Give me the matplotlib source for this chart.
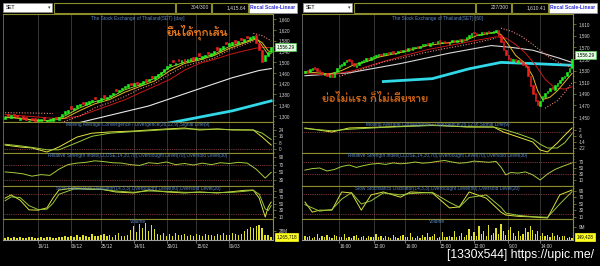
import matplotlib
matplotlib.use("Agg")
import numpy as np
import matplotlib.pyplot as plt
from matplotlib import font_manager, transforms
from matplotlib.ft2font import FT2Font
from matplotlib.patches import Rectangle
from matplotlib.ticker import AutoMinorLocator

plt.rcParams['font.family'] = ['Liberation Sans', 'DejaVu Sans']

# ---------------- daily SET (left) ----------------
day_close = [1296, 1299, 1302, 1298, 1295, 1293, 1290, 1286, 1283, 1285,
             1282, 1287, 1290, 1286, 1284, 1288, 1291, 1289, 1295, 1308,
             1318, 1322, 1327, 1331, 1340, 1346, 1343, 1350, 1356, 1361,
             1364, 1360, 1366, 1368, 1372, 1379, 1386, 1392, 1398, 1405,
             1412, 1419, 1415, 1421, 1418, 1424, 1430, 1427, 1438, 1442,
             1449, 1455, 1462, 1474, 1486, 1494, 1500, 1497, 1503, 1507,
             1502, 1510, 1514, 1509, 1518, 1524, 1521, 1528, 1530, 1533,
             1541, 1546, 1552, 1560, 1566, 1570, 1575, 1572, 1579, 1582,
             1585, 1588, 1593, 1598, 1570, 1545, 1500, 1525, 1538, 1556]
day_open = [1288, 1306, 1293, 1307, 1303, 1285, 1298, 1295, 1276, 1292,
            1291, 1279, 1281, 1295, 1276, 1280, 1282, 1297, 1285, 1296,
            1308, 1312, 1336, 1321, 1330, 1336, 1352, 1340, 1346, 1351,
            1372, 1350, 1356, 1377, 1362, 1369, 1376, 1400, 1388, 1395,
            1402, 1409, 1424, 1411, 1427, 1414, 1420, 1436, 1428, 1450,
            1439, 1445, 1452, 1462, 1474, 1484, 1509, 1488, 1512, 1497,
            1511, 1500, 1504, 1518, 1508, 1533, 1511, 1518, 1539, 1523,
            1531, 1555, 1542, 1550, 1575, 1560, 1565, 1581, 1569, 1591,
            1575, 1597, 1583, 1588, 1600, 1572, 1545, 1505, 1522, 1537]
day_volume = [7, 8, 6, 9, 7, 8, 6, 7, 9, 8, 7, 6, 8, 7, 9, 8, 7, 6, 10, 9, 12, 8, 11, 9,
              14, 10, 16, 12, 9, 18, 13, 11, 15, 20, 12, 17, 10, 14, 22, 13, 11, 16,
              30, 42, 25, 48, 38, 52, 28, 45, 33,
              20, 15, 22, 13, 18, 12, 21, 16, 14, 19, 11, 17, 13, 20, 15, 12, 18, 14, 16, 13,
              19, 15, 21, 17, 14, 22, 18, 16, 20,
              28, 35, 40, 38, 42, 45, 36, 16, 14, 10]
day_ticks = [11, 22, 32, 43, 54, 64, 75]
day_labels = ['19/11', '06/12', '25/12', '14/01', '30/01', '15/02', '06/03']

# moving averages / bands (bar number, value)
day_ma_bar = [0, 5, 10, 15, 20, 25, 30, 35, 40, 45, 50, 55, 60, 65, 70, 75, 80, 84, 86, 88, 89]
day_ma_fast = [1294, 1292, 1284, 1282, 1292, 1320, 1345, 1361, 1388, 1409, 1430, 1467,
               1495, 1508, 1525, 1551, 1571, 1586, 1572, 1542, 1538]
day_ma_5 = [1297, 1291, 1282, 1284, 1300, 1330, 1353, 1367, 1397, 1415, 1440, 1480,
            1500, 1513, 1530, 1558, 1575, 1590, 1560, 1528, 1532]
day_ma_mid_bar = [0, 10, 15, 20, 25, 30, 35, 40, 45, 50, 55, 60, 65, 70, 75, 80, 84, 87, 89]
day_ma_mid = [1305, 1297, 1292, 1290, 1300, 1320, 1340, 1360, 1385, 1410, 1435, 1470,
              1495, 1510, 1528, 1542, 1552, 1555, 1553]
day_ma_long_bar = [20, 27, 48, 65, 76, 85, 89]
day_ma_long = [1262, 1281, 1337, 1401, 1442, 1469, 1476]
day_ma_200_bar = [55, 76, 89]
day_ma_200 = [1274, 1319, 1356]
day_band_up_bar = [0, 8, 16]
day_band_up = [1312, 1311, 1309]
day_band_lo_bar = [18, 25, 30, 35, 40, 45, 50, 55, 60, 65, 70, 75, 80, 83]
day_band_lo = [1272, 1300, 1330, 1350, 1372, 1400, 1420, 1455, 1485, 1500, 1515, 1545, 1565, 1578]
day_band_end_bar = [83, 86, 88, 89]
day_band_end = [1607, 1598, 1586, 1578]

day_macd_bar = [0, 5, 9, 14, 18, 24, 29, 35, 43, 48, 54, 60, 65, 71, 76, 83, 86, 89]
day_macd = [5, 2.5, 1.3, -3.8, 2.5, 15, 20, 21.5, 22.7, 24, 25.3, 26.5, 24, 25.3, 24, 24, 15, 5]
day_signal = [6, 4, 2, -1, -1, 8, 16, 20, 22, 23, 24.5, 25.5, 25, 25, 24.5, 24, 20, 12]

day_rsi_bar = [0, 3, 6, 9, 12, 15, 18, 21, 24, 27, 30, 33, 36, 39, 42, 45, 48, 51, 54, 57,
               60, 63, 66, 69, 72, 75, 78, 81, 84, 87, 89]
day_rsi = [51, 49, 46, 40, 44, 42, 58, 70, 74, 76, 80, 78, 75, 74, 70, 68, 75, 73, 77, 70,
           73, 69, 74, 70, 75, 73, 76, 74, 58, 35, 50]

day_sto_bar = [0, 2, 5, 8, 11, 14, 16, 18, 23, 28, 32, 37, 43, 48, 54, 60, 65, 71, 76, 80,
               83, 85, 87, 88, 89]
day_sto_k = [68, 78, 62, 32, 31, 38, 68, 93, 99, 95, 96, 87, 84, 93, 87, 84, 87, 84, 88, 92,
             93, 68, 10, 41, 56]
day_sto_d = [60, 72, 70, 45, 33, 34, 52, 80, 96, 97, 95, 90, 86, 90, 89, 86, 86, 85, 86, 89,
             92, 80, 35, 30, 45]

# ---------------- 60 minute SET (right) ----------------
hr_close = [1530, 1527, 1532, 1535, 1533, 1530, 1528, 1524, 1525, 1520,
            1522, 1519, 1528, 1535, 1539, 1541, 1545, 1548, 1547, 1542,
            1537, 1540, 1544, 1546, 1548, 1551, 1549, 1553, 1555, 1556,
            1558, 1557, 1560, 1561, 1559, 1562, 1560, 1561, 1564, 1563,
            1566, 1565, 1568, 1567, 1570, 1571, 1569, 1573, 1575, 1576,
            1574, 1577, 1579, 1579, 1581, 1578, 1580, 1579, 1577, 1580,
            1582, 1580, 1583, 1581, 1584, 1582, 1587, 1591, 1595, 1594,
            1592, 1593, 1596, 1594, 1597, 1595, 1596, 1598, 1599, 1590,
            1580, 1565, 1556, 1550, 1547, 1549, 1544, 1548, 1544, 1540,
            1536, 1520, 1504, 1490, 1478, 1470, 1478, 1486, 1492, 1495,
            1500, 1498, 1505, 1509, 1514, 1518, 1521, 1528, 1535, 1550]
hr_open = [1526, 1531, 1527, 1531, 1536, 1534, 1531, 1528, 1523, 1526,
           1519, 1523, 1518, 1527, 1534, 1538, 1540, 1544, 1549, 1548,
           1543, 1536, 1539, 1543, 1545, 1547, 1552, 1548, 1552, 1554,
           1555, 1559, 1556, 1559, 1562, 1558, 1563, 1559, 1560, 1565,
           1562, 1567, 1564, 1569, 1566, 1569, 1572, 1568, 1572, 1574,
           1577, 1573, 1576, 1580, 1578, 1582, 1577, 1581, 1580, 1576,
           1579, 1583, 1579, 1584, 1580, 1585, 1582, 1586, 1590, 1596,
           1595, 1591, 1592, 1597, 1593, 1598, 1594, 1595, 1597, 1600,
           1591, 1581, 1566, 1557, 1551, 1546, 1550, 1543, 1549, 1545,
           1541, 1537, 1521, 1505, 1492, 1480, 1469, 1477, 1485, 1491,
           1494, 1501, 1497, 1504, 1508, 1513, 1517, 1520, 1527, 1534]
hr_volume = [2.5, 1.8, 3.0, 1.5, 2.2, 4.0, 1.6, 2.8, 1.9, 3.5, 2.0, 1.4, 3.2, 2.6, 1.8,
             2.1, 3.8, 1.7, 2.4, 1.5, 2.9, 3.3, 1.6, 2.0, 2.7, 1.5, 3.0, 1.8, 2.3, 4.2,
             1.9, 2.5, 1.6, 3.1, 2.2, 1.7, 3.6, 2.0, 1.5, 2.8, 3.4, 1.8, 2.4, 5.0, 2.1,
             1.6, 2.9, 1.7, 3.3, 2.0, 4.5, 1.8, 2.6, 3.9, 1.6, 2.2, 5.5, 2.4, 1.9, 3.0,
             2.3, 6.0, 1.8, 2.7, 4.8, 2.0, 3.5, 7.5, 2.6, 5.2, 3.0, 9.5, 4.0, 6.5, 2.8,
             10.5, 3.6, 5.0, 8.0, 4.2, 11.0, 6.0, 3.5, 7.0, 9.0, 4.5, 3.0, 6.5, 2.5, 4.0,
             8.5, 5.5, 10.0, 7.0, 4.0, 6.0, 3.0, 5.0, 2.5, 3.5, 2.0, 4.5, 2.8, 3.2, 1.8,
             2.5, 3.0, 1.6, 2.2, 1.2]
hr_ticks = [14, 28, 41, 55, 69, 83, 96]
hr_labels = ['16:00', '12:00', '16:00', '15:00', '12:00', '9:00', '14:00']

hr_ma_bar = [0, 10, 15, 20, 25, 30, 40, 50, 60, 65, 70, 75, 78, 80, 83, 86, 90, 93, 95, 97,
             100, 103, 106, 109]
hr_ma_fast = [1528, 1524, 1530, 1540, 1545, 1553, 1562, 1573, 1579, 1581, 1590, 1594, 1596,
              1592, 1575, 1556, 1542, 1520, 1495, 1480, 1484, 1495, 1510, 1525]
hr_ma_mid_bar = [0, 10, 20, 30, 40, 50, 60, 70, 78, 82, 86, 90, 94, 98, 102, 106, 109]
hr_ma_mid = [1525, 1522, 1530, 1543, 1555, 1566, 1574, 1582, 1588, 1586, 1575, 1560, 1540,
             1515, 1500, 1498, 1502]
hr_ma_long_bar = [0, 18, 39, 59, 76, 84, 93, 104, 109]
hr_ma_long = [1521, 1526, 1542, 1560, 1573, 1570, 1565, 1551, 1544]
hr_ma_200_bar = [32, 52, 67, 80, 93, 109]
hr_ma_200 = [1511, 1516, 1533, 1544, 1542, 1539]
hr_band_lo_bar = [14, 20, 26, 32, 40, 48, 56, 64, 72, 78]
hr_band_lo = [1520, 1528, 1536, 1545, 1552, 1560, 1567, 1573, 1580, 1586]
hr_band_up_bar = [80, 84, 88, 92, 96, 100, 104, 109]
hr_band_up = [1603, 1598, 1590, 1578, 1565, 1552, 1543, 1535]
hr_band_end_bar = [98, 103, 106, 109]
hr_band_end = [1465, 1478, 1492, 1509]

hr_macd_bar = [0, 11, 18, 32, 52, 66, 77, 81, 87, 93, 96, 99, 103, 106, 109]
hr_macd = [4.7, -0.7, 4.7, 6, 8.7, 6, 6, -0.7, -7.3, -14, -24.7, -27.3, -15.3, -5, 4.7]
hr_signal = [4, 1, 3, 5.5, 8, 6.5, 6, 3, -3, -10, -17, -22, -22, -15, -3]

hr_rsi_bar = [0, 3, 6, 9, 12, 15, 18, 21, 24, 27, 30, 33, 36, 39, 42, 45, 48, 51, 54, 57,
              60, 63, 66, 69, 72, 75, 78, 80, 82, 84, 87, 90, 93, 96, 99, 102, 105, 109]
hr_rsi = [43, 48, 50, 40, 45, 55, 60, 52, 58, 63, 65, 62, 67, 64, 66, 70, 66, 68, 72, 75,
          70, 66, 68, 73, 71, 69, 72, 53, 27, 35, 33, 37, 27, 10, 30, 45, 55, 67]

hr_sto_bar = [0, 3, 6, 11, 15, 19, 23, 27, 32, 39, 43, 52, 59, 63, 67, 74, 80, 82, 87, 93,
              99, 104, 109]
hr_sto_k = [56, 25, 31, 31, 87, 84, 31, 78, 87, 71, 87, 84, 38, 41, 87, 68, 25, 16, 12, 10,
            7, 78, 93]
hr_sto_d = [48, 38, 28, 33, 65, 85, 50, 60, 84, 78, 82, 86, 55, 40, 70, 78, 40, 22, 15, 11,
            9, 50, 88]

# ---------------- style ----------------
W, H = 600, 266
OLIVE = '#8c8c2c'
LABEL = '#d4d4d4'
BLUE = '#5a88cc'
GREEN, RED = '#20f020', '#f02020'
REF = '#a04848'


def box(x0, y0, x1, y1):
    return [x0 / W, 1 - y1 / H, (x1 - x0) / W, (y1 - y0) / H]


def thai_family():
    found = []
    for f in font_manager.fontManager.ttflist:
        try:
            if 0x0E22 in FT2Font(f.fname).get_charmap():
                found.append(f.name)
        except Exception:
            continue
    for pref in ('Itim', 'Charmonman', 'Kanit'):
        if pref in found:
            return pref
    return found[0] if found else 'DejaVu Sans'


fig = plt.figure(figsize=(6, 2.66), dpi=100, facecolor='black')
hdr = fig.add_axes([0, 0, 1, 1])
hdr.set_xlim(0, W)
hdr.set_ylim(H, 0)
hdr.axis('off')


def header(x, ratio, last):
    hdr.add_patch(Rectangle((x + 3, 3), 49, 9, fc='white', ec='#909090', lw=0.5))
    hdr.text(x + 6, 7.6, 'SET', fontsize=3.6, color='black', va='center')
    hdr.text(x + 49, 7.6, '\u25be', fontsize=3.6, color='#404040', va='center', ha='center',
             family='DejaVu Sans')
    hdr.add_patch(Rectangle((x + 54, 2.5), 121, 10, fc='black', ec=OLIVE, lw=0.8))
    hdr.add_patch(Rectangle((x + 176, 2.5), 35, 10, fc='black', ec=OLIVE, lw=0.8))
    hdr.text(x + 209, 7.6, ratio, fontsize=3.6, color=LABEL, va='center', ha='right')
    hdr.add_patch(Rectangle((x + 212, 2.5), 36, 10, fc='black', ec=OLIVE, lw=0.8))
    hdr.text(x + 246, 7.6, last, fontsize=3.6, color=LABEL, va='center', ha='right')
    hdr.add_patch(Rectangle((x + 249, 2.5), 48, 10, fc='white', ec='#a0a0a0', lw=0.5))
    hdr.text(x + 273, 7.6, 'Recal Scale-Linear', fontsize=3.6, color='#2828d8', va='center',
             ha='center', weight='bold')


def panel(x0, x1, y0, y1, xlim, ylim, ticks, labels, grid):
    ax = fig.add_axes(box(x0, y0, x1, y1), facecolor='black')
    ax.set_xlim(xlim)
    ax.set_ylim(ylim)
    ax.set_xticks([])
    ax.yaxis.tick_right()
    ax.set_yticks(ticks, labels)
    ax.yaxis.set_minor_locator(AutoMinorLocator(2))
    ax.tick_params(axis='y', which='both', colors=OLIVE, labelcolor=LABEL, labelsize=3.3,
                   width=0.5, pad=2)
    ax.tick_params(axis='y', which='major', length=2)
    ax.tick_params(axis='y', which='minor', length=1)
    for side in ('top', 'bottom', 'right'):
        ax.spines[side].set_color(OLIVE)
        ax.spines[side].set_linewidth(0.8)
    ax.spines['left'].set_color('#707070')
    ax.spines['left'].set_linewidth(0.6)
    for g in grid:
        ax.axvline(g, color='#3c3c3c', lw=0.6, zorder=0)
    return ax


def subtitle(ax, text):
    ax.text(0.5, 0.985, text, transform=ax.transAxes, ha='center', va='top',
            fontsize=3.4, color=BLUE)


def candles(ax, o, c, width):
    o, c = np.array(o), np.array(c)
    x = np.arange(len(c))
    col = np.where(c >= o, GREEN, RED)
    ax.bar(x, c - o, bottom=o, width=width, color=col, edgecolor=col, lw=0.4, zorder=4)


def chart(x0, x1, n, xlim, grid, ticklabels, price, macd, rsi, sto, vol):
    ax = panel(x0, x1, 14, 122, xlim, price['ylim'], price['ticks'],
               [f'{t:,}' for t in price['ticks']], grid)
    candles(ax, price['open'], price['close'], price['width'])
    for bars, vals, col, lw, ls in price['lines']:
        ax.plot(bars, vals, color=col, lw=lw, ls=ls, zorder=3)
    ax.text(0.5, 0.985, price['title'], transform=ax.transAxes, ha='center', va='top',
            fontsize=3.4, color=BLUE)
    trans_y = transforms.blended_transform_factory(ax.transAxes, ax.transData)
    ax.text(1.012, 1556.29, '1,556.29', transform=trans_y, ha='left', va='center',
            fontsize=3.3, color='black',
            bbox=dict(boxstyle='square,pad=0.35', fc='#e4ffe4', ec='#50d050', lw=0.5))
    price_ax = ax

    ax = panel(x0, x1, 122, 153, xlim, macd['ylim'], macd['ticks'],
               [str(t) for t in macd['ticks']], grid)
    ax.axhline(0, color=REF, lw=0.6, ls=(0, (1, 1.2)))
    ax.plot(macd['bar'], macd['line'], color='#e4e440', lw=0.7)
    ax.plot(macd['bar'], macd['signal'], color='#9ccc3c', lw=0.7)
    subtitle(ax, 'Moving Average Convergence / Divergence(26,12,9),Signal Line(9)')

    ax = panel(x0, x1, 153, 186, xlim, rsi['ylim'], rsi['ticks'],
               [str(t) for t in rsi['ticks']], grid)
    for lv in (70, 30):
        ax.axhline(lv, color=REF, lw=0.6, ls=(0, (1, 1.2)))
    ax.plot(rsi['bar'], rsi['val'], color='#a8cc3c', lw=0.7)
    subtitle(ax, 'Relative Strength Index(CLOSE,14,30,70),Overbought Level(70),'
                 'Oversold Level(30)')

    ax = panel(x0, x1, 186, 219, xlim, (3.8, 105.4), [10, 30, 50, 70, 90],
               ['10', '30', '50', '70', '90'], grid)
    for lv in (80, 20):
        ax.axhline(lv, color=REF, lw=0.6, ls=(0, (1, 1.2)))
    ax.plot(sto['bar'], sto['k'], color='#dce040', lw=0.7)
    ax.plot(sto['bar'], sto['d'], color='#98c838', lw=0.7)
    subtitle(ax, 'Slow Stochastics Oscillator(14,3,3),Overbought Level(80),'
                 'Oversold Level(20)')

    ax = panel(x0, x1, 219, 240, xlim, vol['ylim'], [vol['tick']], [vol['ticklabel']], grid)
    ax.bar(np.arange(n), vol['val'], width=vol['width'], color='#e0e028', zorder=3)
    ax.spines['bottom'].set_color('#a0a0a0')
    ax.set_xticks(grid, ticklabels)
    ax.tick_params(axis='x', colors='#a0a0a0', labelcolor=LABEL, labelsize=3.4, length=2,
                   width=0.5, pad=0.8)
    for lab in ax.get_xticklabels():
        lab.set_ha('left')
    subtitle(ax, 'Volume')
    ty = transforms.blended_transform_factory(ax.transAxes, ax.transData)
    ax.text(1.012, vol['last_y'], vol['last'], transform=ty, ha='left', va='center',
            fontsize=3.3, color='black',
            bbox=dict(boxstyle='square,pad=0.3', fc='#ffff20', ec='#ffff20', lw=0.5))
    return price_ax


header(0, '304/300', '1,415.64')
header(300, '227/300', '1,610.41')

left = chart(3, 273, len(day_close), (-0.7, 89.6), day_ticks, day_labels,
             dict(ylim=(1277.5, 1678.75), ticks=list(range(1300, 1661, 40)),
                  open=day_open, close=day_close, width=0.65,
                  title='The Stock Exchange of Thailand(SET) [day]',
                  lines=[(day_ma_long_bar, day_ma_long, '#e8e8e8', 0.8, '-'),
                         (day_ma_200_bar, day_ma_200, '#30d8e8', 2.0, '-'),
                         (day_ma_mid_bar, day_ma_mid, '#c81818', 0.7, '-'),
                         (day_ma_bar, day_ma_fast, '#e8b820', 0.7, '-'),
                         (day_ma_bar, day_ma_5, '#b8d838', 0.6, '-'),
                         (day_band_up_bar, day_band_up, '#f08080', 0.8, (0, (1, 1.5))),
                         (day_band_lo_bar, day_band_lo, '#f08080', 0.8, (0, (1, 1.5))),
                         (day_band_end_bar, day_band_end, '#f08080', 0.8, (0, (1, 1.5)))]),
             dict(ylim=(-5.05, 34.1), ticks=[0, 8, 16, 24], bar=day_macd_bar,
                  line=day_macd, signal=day_signal),
             dict(ylim=(14.3, 100.4), ticks=[30, 50, 70, 90], bar=day_rsi_bar, val=day_rsi),
             dict(bar=day_sto_bar, k=day_sto_k, d=day_sto_d),
             dict(ylim=(0, 65), tick=28, ticklabel='28M', val=day_volume, width=0.5,
                  last='1,265,718', last_y=9))

right = chart(302, 573, len(hr_close), (-1.2, 109.4), hr_ticks, hr_labels,
              dict(ylim=(1441.3, 1627.4), ticks=list(range(1450, 1611, 20)),
                   open=hr_open, close=hr_close, width=0.6,
                   title='The Stock Exchange of Thailand(SET) [60]',
                   lines=[(hr_ma_long_bar, hr_ma_long, '#d8d8d8', 0.8, '-'),
                          (hr_ma_200_bar, hr_ma_200, '#30d8e8', 2.0, '-'),
                          (hr_ma_mid_bar, hr_ma_mid, '#c81818', 0.7, '-'),
                          (hr_ma_bar, hr_ma_fast, '#e8b820', 0.7, '-'),
                          (hr_band_lo_bar, hr_band_lo, '#f08080', 0.8, (0, (1, 1.5))),
                          (hr_band_up_bar, hr_band_up, '#f08080', 0.8, (0, (1, 1.5))),
                          (hr_band_end_bar, hr_band_end, '#f08080', 0.8, (0, (1, 1.5)))]),
              dict(ylim=(-28.7, 12.7), ticks=[-22, -14, -6, 2], bar=hr_macd_bar,
                   line=hr_macd, signal=hr_signal),
              dict(ylim=(-10, 100), ticks=[10, 30, 50, 70], bar=hr_rsi_bar, val=hr_rsi),
              dict(bar=hr_sto_bar, k=hr_sto_k, d=hr_sto_d),
              dict(ylim=(0, 14.5), tick=9, ticklabel='9M', val=hr_volume, width=0.5,
                   last='149,428', last_y=2))

thai = thai_family()
left.text(0.72, 0.83, 'ยืนได้ทุกเส้น', transform=left.transAxes, ha='center', va='center',
          fontsize=9, color='#ec7a1e', family=thai)
right.text(0.27, 0.21, 'ย่อไม่แรง ก็ไม่เสียหาย', transform=right.transAxes, ha='center',
           va='center', fontsize=9, color='#cc6418', family=thai)

hdr.text(594, 255, '[1330x544] https://upic.me/', fontsize=8.8, color='white',
         ha='right', va='center', family='Liberation Sans')

fig.savefig('out.png', dpi=100, facecolor='black')
